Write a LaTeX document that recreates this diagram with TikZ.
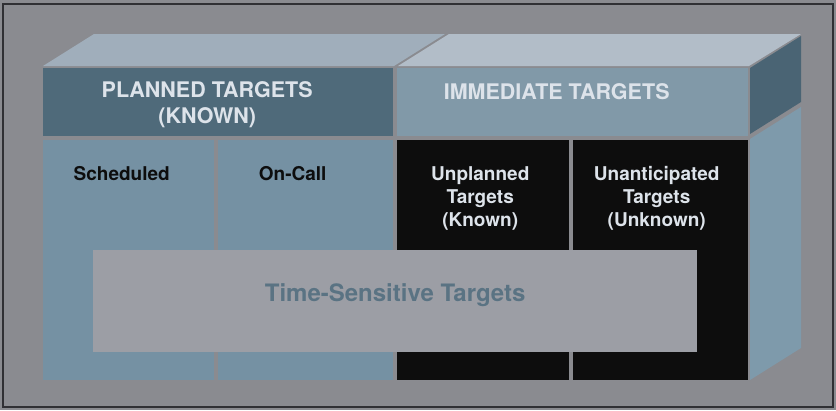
\documentclass[tikz,border=0pt]{standalone}
\usepackage{fontspec}
\setmainfont{TeX Gyre Heros}
\usepackage{xcolor}
\usepackage{tikz}
\usetikzlibrary{positioning}

\definecolor{bggray}{HTML}{8A8B90}
\definecolor{framegray}{HTML}{303034}
\definecolor{topleft}{HTML}{A0AEBB}
\definecolor{topright}{HTML}{B2BDC8}
\definecolor{plannedblue}{HTML}{4F6A7A}
\definecolor{immedblue}{HTML}{8199A8}
\definecolor{sidedark}{HTML}{4A6474}
\definecolor{sidelight}{HTML}{7E9AAB}
\definecolor{cellblue}{HTML}{7591A3}
\definecolor{cellblack}{HTML}{0D0D0D}
\definecolor{timegray}{HTML}{9C9EA5}
\definecolor{timetext}{HTML}{5A7383}
\definecolor{headwhite}{HTML}{DDE3EA}

\begin{document}
\begin{tikzpicture}[x=1pt, y=-1pt,
    panel/.style={rectangle, inner sep=0pt, anchor=north west},
    headtext/.style={text=headwhite, font=\bfseries\fontsize{21.5}{26}\selectfont, align=center},
    celltext/.style={font=\bfseries\fontsize{19}{23}\selectfont, align=center}]
    \useasboundingbox (0,0) rectangle (836,410);
    \fill [bggray] (0,0) rectangle (836,410);
    \draw [framegray, line width=1.6pt] (3,4) rectangle (833,407);

    % top and side faces
    \fill [topleft] (43,66) -- (94,34) -- (445,34) -- (394,66) -- cycle;
    \fill [topright] (398,66) -- (449,34) -- (801,34) -- (749,66) -- cycle;
    \fill [sidedark] (750,68) -- (801,36) -- (801,102) -- (750,134) -- cycle;
    \fill [sidelight] (750,139) -- (801,107) -- (801,348) -- (750,380) -- cycle;

    % header row
    \node (planned) [panel, fill=plannedblue, minimum width=350pt, minimum height=68pt] at (43,68) {};
    \node (immediate) [panel, fill=immedblue, minimum width=351pt, minimum height=68pt] at (397,68) {};
    \node (plannedtxt) [headtext] at ([xshift=-11pt, yshift=-2pt]planned.center) {PLANNED TARGETS\\(KNOWN)};
    \node (immediatetxt) [headtext] at ([xshift=-16pt, yshift=11pt]immediate.center) {IMMEDIATE TARGETS};

    % lower row
    \node (sched) [panel, fill=cellblue, minimum width=171pt, minimum height=240pt] at (43,140) {};
    \node (oncall) [panel, fill=cellblue, minimum width=175pt, minimum height=240pt] at (218,140) {};
    \node (unplanned) [panel, fill=cellblack, minimum width=172pt, minimum height=240pt] at (397,140) {};
    \node (unantic) [panel, fill=cellblack, minimum width=175pt, minimum height=240pt] at (573,140) {};

    \node (schedtxt) [celltext, text=cellblack] at ([xshift=-7pt, yshift=-34pt]sched.north) {Scheduled};
    \node (oncalltxt) [celltext, text=cellblack] at ([xshift=-13pt, yshift=-34pt]oncall.north) {On-Call};
    \node (unplannedtxt) [celltext, text=headwhite] at ([xshift=-3pt, yshift=-58pt]unplanned.north) {Unplanned\\Targets\\(Known)};
    \node (unantictxt) [celltext, text=headwhite] at ([xshift=-4pt, yshift=-58pt]unantic.north) {Unanticipated\\Targets\\(Unknown)};

    % overlay
    \node (timesens) [panel, fill=timegray, minimum width=604pt, minimum height=102pt] at (93,250) {};
    \node (timesenstxt) [text=timetext, font=\bfseries\fontsize{24}{28}\selectfont] at ([yshift=6pt]timesens.center) {Time-Sensitive Targets};
\end{tikzpicture}
\end{document}
